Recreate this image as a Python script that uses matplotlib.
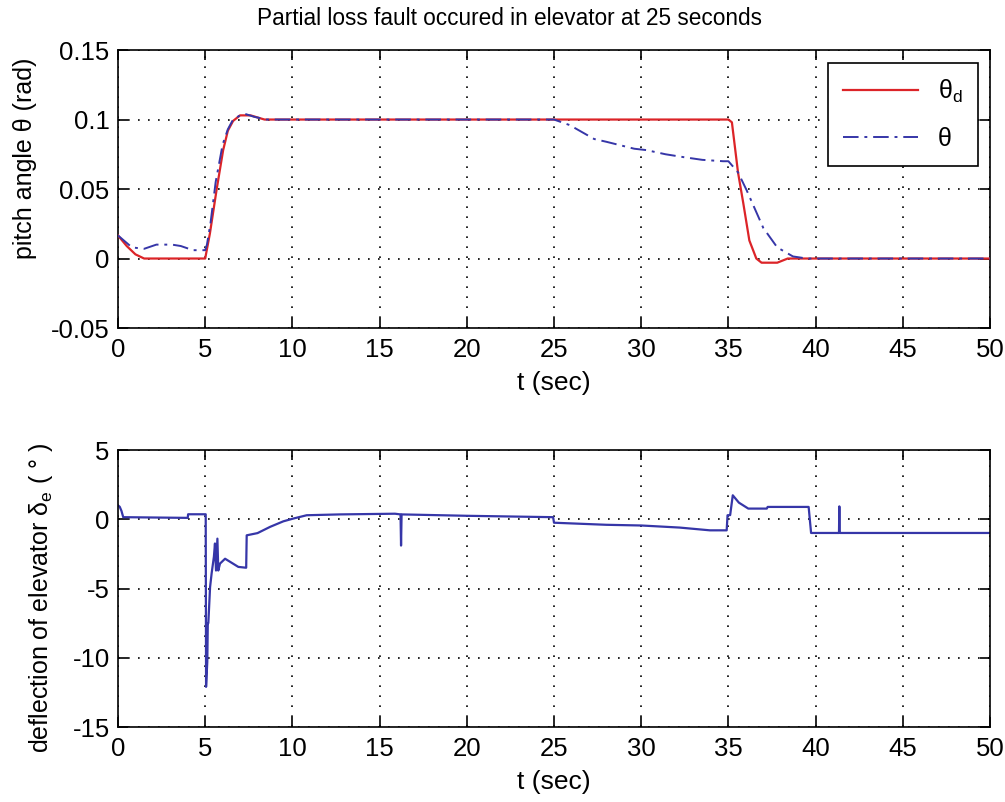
import matplotlib
matplotlib.use('Agg')
import matplotlib.pyplot as plt

plt.rcParams['font.family'] = ['Liberation Sans', 'DejaVu Sans']
plt.rcParams['mathtext.fontset'] = 'custom'
plt.rcParams['mathtext.rm'] = 'Liberation Sans'
plt.rcParams['mathtext.it'] = 'Liberation Sans'
plt.rcParams['font.size'] = 16

# reference pitch angle theta_d (rad)
t_ref = [0, 0.5, 1.0, 1.5, 5.0, 5.27, 5.66, 6.03, 6.3, 6.6, 6.8, 7.0, 7.6, 8.4,
         35.0, 35.2, 35.55, 35.85, 36.2, 36.6, 36.9, 37.8, 38.4, 50]
theta_d = [0.0166, 0.009, 0.003, 0.0, 0.0, 0.018, 0.05, 0.078, 0.092, 0.099, 0.101, 0.103, 0.103, 0.100,
           0.100, 0.098, 0.062, 0.040, 0.013, 0.0, -0.003, -0.003, 0.0, 0.0]

# actual pitch angle theta (rad)
t_act = [0, 0.8, 1.5, 2.2, 3.1, 3.6, 4.3, 5.0, 5.1, 5.3, 5.6, 6.0, 6.3, 6.6, 7.0, 7.3, 7.8, 8.5,
         25.0, 25.9, 27.3, 28.0, 29.6, 30.3, 31.4, 32.4, 33.5, 34.7, 35.0, 35.55, 36.05, 37.0,
         37.8, 38.7, 39.5, 50]
theta = [0.0166, 0.008, 0.007, 0.010, 0.010, 0.009, 0.006, 0.006, 0.010, 0.025, 0.055, 0.082,
         0.093, 0.100, 0.103, 0.104, 0.102, 0.100, 0.100, 0.096, 0.086, 0.084, 0.079, 0.078,
         0.075, 0.073, 0.071, 0.070, 0.070, 0.062, 0.049, 0.022, 0.008, 0.0015, 0.0, 0.0]

# elevator deflection delta_e (deg)
t_el = [0, 0.1, 0.2, 0.3, 4.0, 4.02, 5.03, 5.05, 5.12, 5.15, 5.18, 5.28, 5.37, 5.5, 5.56, 5.62,
        5.70, 5.75, 5.85, 6.14, 6.9, 7.35, 7.38, 8.0, 8.72, 9.48, 10.05, 10.82, 12.73, 15.88,
        16.2, 16.23, 16.26, 20.0, 24.95, 25.0, 28.0, 30.0, 32.2, 33.94, 34.9, 34.95, 35.1,
        35.25, 35.6, 36.14, 37.2, 37.25, 39.6, 39.74, 41.34, 41.36, 41.38, 50]
delta_e = [1.0, 0.9, 0.6, 0.15, 0.1, 0.36, 0.36, -12.1, -10.3, -7.5, -7.5, -4.9, -3.9, -2.7, -1.75,
           -3.7, -1.4, -3.7, -3.2, -2.85, -3.44, -3.5, -1.16, -1.0, -0.55, -0.15, 0.05, 0.29, 0.35,
           0.4, 0.35, -1.9, 0.35, 0.25, 0.15, -0.25, -0.4, -0.45, -0.6, -0.8, -0.8, 0.29, 0.3,
           1.73, 1.2, 0.77, 0.77, 0.89, 0.89, -0.99, -0.99, 0.93, -0.99, -0.99]

x_ticks = [0, 5, 10, 15, 20, 25, 30, 35, 40, 45, 50]
y1_ticks = [-0.05, 0, 0.05, 0.1, 0.15]
y1_labels = ['-0.05', '0', '0.05', '0.1', '0.15']
y2_ticks = [-15, -10, -5, 0, 5]
y2_labels = ['-15', '-10', '-5', '0', '5']

fig = plt.figure(figsize=(10.05, 8.02), dpi=100)
ax1 = fig.add_axes([0.1174, 0.591, 0.8677, 0.3466])
ax2 = fig.add_axes([0.1174, 0.0935, 0.8677, 0.3454])


def style(ax):
    ax.grid(True, color='black', linestyle=(0, (1, 5)), linewidth=1.2)
    ax.tick_params(direction='in', length=7, width=1.2, top=True, right=True, labelsize=18.5)
    ax.tick_params(axis='x', pad=7)
    ax.tick_params(axis='y', pad=6)
    for s in ax.spines.values():
        s.set_linewidth(1.2)
    ax.set_xlim(0, 50)
    ax.set_xticks(x_ticks)
    ax.set_xticklabels([str(v) for v in x_ticks])
    ax.set_xlabel('t (sec)', fontsize=19)
    ax.xaxis.set_label_coords(0.5, -0.155)


ax1.plot(t_ref, theta_d, color='#dc2428', linewidth=1.6, label='θ$_\\mathrm{d}$', zorder=3)
ax1.plot(t_act, theta, color='#3636a8', linewidth=1.4, linestyle=(0, (8, 3, 1.5, 3)),
         label='θ', zorder=4)
style(ax1)
ax1.set_ylim(-0.05, 0.15)
ax1.set_yticks(y1_ticks)
ax1.set_yticklabels(y1_labels)
ax1.set_ylabel('pitch angle θ (rad)', fontsize=18)
ax1.yaxis.set_label_coords(-0.093, 0.61)
ax1.set_title('Partial loss fault occured in elevator at 25 seconds', fontsize=16.3, pad=18,
              x=0.4495)
leg = ax1.legend(loc='upper right', fancybox=False, framealpha=1, edgecolor='black',
                 handlelength=3.0, labelspacing=0.9, borderpad=0.6, borderaxespad=0.5,
                 fontsize=18)
leg.get_frame().set_linewidth(1.2)

ax2.plot(t_el, delta_e, color='#3636a8', linewidth=1.6)
style(ax2)
ax2.set_ylim(-15, 5)
ax2.set_yticks(y2_ticks)
ax2.set_yticklabels(y2_labels)
ax2.set_ylabel('deflection of elevator δ$_\\mathrm{e}$ ( ° )', fontsize=18)
ax2.yaxis.set_label_coords(-0.072, 0.466)

fig.savefig('out.png', dpi=100)
